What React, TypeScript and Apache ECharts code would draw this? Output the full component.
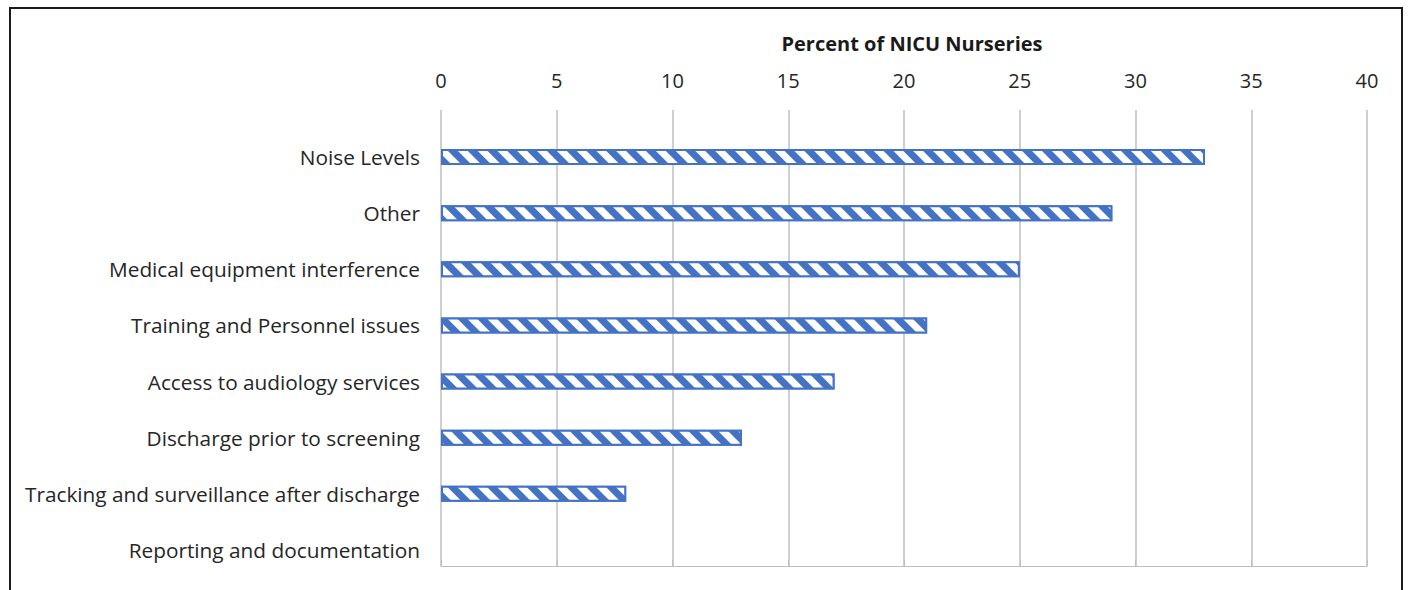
import React, { useEffect, useRef } from "react";
import * as echarts from "echarts";

const categories = [
  "Noise Levels",
  "Other",
  "Medical equipment interference",
  "Training and Personnel issues",
  "Access to audiology services",
  "Discharge prior to screening",
  "Tracking and surveillance after discharge",
  "Reporting and documentation",
];
const percentValues = [33, 29, 25, 21, 17, 13, 8, 0];
const axisMin = 0;
const axisMax = 40;
const axisStep = 5;
const axisTitle = "Percent of NICU Nurseries";

const FONT = "Open Sans";
const TEXT = "#262626";
const GRID = "#bfbfbf";
const BLUE = "#4472C4";

export default function App() {
  const ref = useRef<HTMLDivElement>(null);

  useEffect(() => {
    document.body.style.margin = "0";
    const chart = echarts.init(ref.current!, null, { renderer: "svg" });
    const plotLeft = 441;
    const plotWidth = 926;
    // zero-valued bars get no outline so they stay invisible
    const barData = percentValues.map((v) =>
      v === 0 ? { value: v, itemStyle: { borderWidth: 0, opacity: 0 } } : v
    );
    chart.setOption({
      animation: false,
      backgroundColor: "#ffffff",
      textStyle: { fontFamily: FONT },
      grid: [
        { left: plotLeft, width: plotWidth, top: 110, height: 456 },
        { left: plotLeft, width: plotWidth, top: 129, height: 449 },
      ],
      xAxis: [
        {
          gridIndex: 0,
          type: "value",
          position: "top",
          min: axisMin,
          max: axisMax,
          interval: axisStep,
          axisLine: { show: true, lineStyle: { color: GRID, width: 1 } },
          axisTick: { show: true, length: 6, lineStyle: { color: GRID } },
          axisLabel: { fontSize: 20, color: TEXT, margin: 20, fontFamily: FONT },
          splitLine: { show: true, lineStyle: { color: GRID, width: 1.5 } },
        },
        {
          gridIndex: 1,
          type: "value",
          min: axisMin,
          max: axisMax,
          show: false,
        },
      ],
      yAxis: [
        { gridIndex: 0, type: "value", show: false },
        {
          gridIndex: 1,
          type: "category",
          inverse: true,
          data: categories,
          axisLine: { show: false },
          axisTick: { show: false },
          splitLine: { show: false },
          axisLabel: { fontSize: 20.8, color: TEXT, margin: 21, fontFamily: FONT },
        },
      ],
      series: [
        {
          type: "bar",
          xAxisIndex: 1,
          yAxisIndex: 1,
          data: barData,
          barWidth: 16,
          itemStyle: {
            color: BLUE,
            borderColor: BLUE,
            borderWidth: 2,
            decal: {
              symbol: "rect",
              symbolSize: 1,
              color: "#ffffff",
              dashArrayX: [1, 0],
              dashArrayY: [7, 7],
              rotation: Math.PI / 4,
            },
          },
        },
      ],
      graphic: [
        {
          type: "rect",
          shape: { x: 10, y: 8, width: 1392, height: 620 },
          style: { fill: "none", stroke: "#1a1a1a", lineWidth: 2 },
          silent: true,
        },
        {
          type: "text",
          x: 912,
          y: 43,
          style: {
            text: axisTitle,
            fontFamily: FONT,
            fontSize: 20,
            fontWeight: "bold",
            fill: "#1a1a1a",
            textAlign: "center",
            textVerticalAlign: "middle",
          },
        },
      ],
    });
    return () => chart.dispose();
  }, []);

  return <div ref={ref} style={{ width: 1408, height: 590 }} />;
}
